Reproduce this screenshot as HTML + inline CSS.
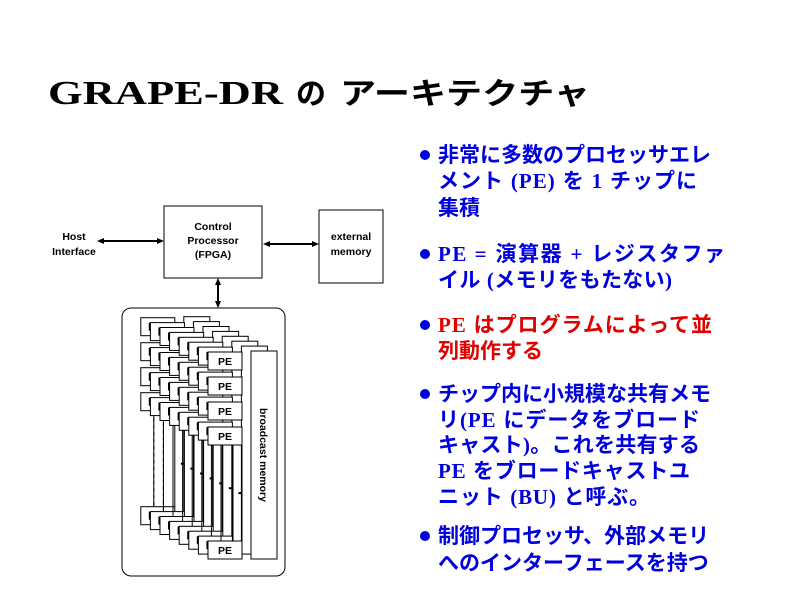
<!DOCTYPE html>
<html><head><meta charset="utf-8"><style>
html,body{margin:0;padding:0;background:#fff;}
svg{display:block;}
.j{font-family:"Liberation Sans","Noto Sans CJK JP",sans-serif;font-weight:bold;}
.s{font-family:"Liberation Serif","Noto Sans CJK JP",serif;font-weight:bold;}
.d{font-family:"Liberation Sans",sans-serif;font-weight:bold;font-size:10.5px;}
</style></head><body>
<svg width="800" height="600" viewBox="0 0 800 600" xmlns="http://www.w3.org/2000/svg">
<defs>
<g id="plane">
  <line x1="221" y1="445" x2="221" y2="541" stroke="#000" stroke-width="1"/>
  <line x1="242" y1="445" x2="242" y2="541" stroke="#000" stroke-width="1"/>
  <rect x="251" y="351" width="26" height="208" fill="#fff" stroke="#000"/>
  <rect x="208" y="352" width="34" height="18" fill="#fff" stroke="#000"/>
  <rect x="208" y="377" width="34" height="18" fill="#fff" stroke="#000"/>
  <rect x="208" y="402" width="34" height="18" fill="#fff" stroke="#000"/>
  <rect x="208" y="427" width="34" height="18" fill="#fff" stroke="#000"/>
  <rect x="208" y="541" width="34" height="18" fill="#fff" stroke="#000"/>
  <rect x="216" y="357" width="2.5" height="8" fill="#000"/>
  <rect x="216" y="382" width="2.5" height="8" fill="#000"/>
  <rect x="216" y="407" width="2.5" height="8" fill="#000"/>
  <rect x="216" y="432" width="2.5" height="8" fill="#000"/>
  <rect x="216" y="546" width="2.5" height="8" fill="#000"/>
  <rect x="248" y="497" width="3" height="2" fill="#000"/>
</g>
<g id="planed">
  <line x1="221" y1="445" x2="221" y2="541" stroke="#000" stroke-width="1" stroke-dasharray="4,3"/>
  <use href="#plane"/>
</g>
</defs>

<text x="48" y="104" font-family="'Liberation Serif',serif" font-weight="bold" font-size="34" textLength="235" lengthAdjust="spacingAndGlyphs">GRAPE-DR</text>
<text x="296" y="104" font-family="'Noto Sans CJK JP',sans-serif" font-weight="bold" font-size="30">の</text>
<text x="340" y="104" font-family="'Noto Sans CJK JP',sans-serif" font-weight="bold" font-size="30" textLength="250" lengthAdjust="spacingAndGlyphs">アーキテクチャ</text>

<text x="74" y="240" class="d" text-anchor="middle">Host</text>
<text x="74" y="255" class="d" text-anchor="middle">Interface</text>
<line x1="100" y1="241" x2="160" y2="241" stroke="#000" stroke-width="2"/>
<polygon points="97,241 104,238 104,244" fill="#000"/>
<polygon points="164,241 157,238 157,244" fill="#000"/>
<rect x="164" y="206" width="98" height="72" fill="#fff" stroke="#000"/>
<text x="213" y="230" class="d" text-anchor="middle">Control</text>
<text x="213" y="244" class="d" text-anchor="middle">Processor</text>
<text x="213" y="258" class="d" text-anchor="middle">(FPGA)</text>
<line x1="266" y1="244" x2="315" y2="244" stroke="#000" stroke-width="2"/>
<polygon points="263,244 270,241 270,247" fill="#000"/>
<polygon points="319,244 312,241 312,247" fill="#000"/>
<rect x="319" y="210" width="64" height="73" fill="#fff" stroke="#000"/>
<text x="351" y="240" class="d" text-anchor="middle">external</text>
<text x="351" y="255" class="d" text-anchor="middle">memory</text>
<line x1="218" y1="282" x2="218" y2="304" stroke="#000" stroke-width="2"/>
<polygon points="218,278 215,285 221,285" fill="#000"/>
<polygon points="218,308 215,301 221,301" fill="#000"/>

<rect x="122" y="308" width="163" height="268" rx="9" fill="#fff" stroke="#000"/>

<use href="#planed" transform="translate(-67.2,-34.3)"/>
<use href="#planed" transform="translate(-57.6,-29.4)"/>
<use href="#planed" transform="translate(-48,-24.5)"/>
<use href="#plane" transform="translate(-38.4,-19.6)"/>
<use href="#plane" transform="translate(-28.8,-14.7)"/>
<use href="#plane" transform="translate(-19.2,-9.8)"/>
<use href="#plane" transform="translate(-9.6,-4.9)"/>
<g>
  <line x1="221" y1="445" x2="221" y2="541" stroke="#000"/>
  <line x1="233" y1="445" x2="233" y2="541" stroke="#000"/>
  <line x1="242" y1="445" x2="242" y2="541" stroke="#000"/>
  <rect x="251" y="351" width="26" height="208" fill="#fff" stroke="#000"/>
  <rect x="208" y="352" width="34" height="18" fill="#fff" stroke="#000"/>
  <rect x="208" y="377" width="34" height="18" fill="#fff" stroke="#000"/>
  <rect x="208" y="402" width="34" height="18" fill="#fff" stroke="#000"/>
  <rect x="208" y="427" width="34" height="18" fill="#fff" stroke="#000"/>
  <rect x="208" y="541" width="34" height="18" fill="#fff" stroke="#000"/>
  <text x="225" y="365" class="d" text-anchor="middle">PE</text>
  <text x="225" y="390" class="d" text-anchor="middle">PE</text>
  <text x="225" y="415" class="d" text-anchor="middle">PE</text>
  <text x="225" y="440" class="d" text-anchor="middle">PE</text>
  <text x="225" y="554" class="d" text-anchor="middle">PE</text>
  <text transform="translate(260,455) rotate(90)" class="d" text-anchor="middle">broadcast memory</text>
</g>

<g fill="#0000dd" font-size="21">
<circle cx="425" cy="155" r="5"/>
<text x="438" y="162" class="j">非常に多数のプロセッサエレ</text>
<text x="438" y="188" class="j" textLength="259" lengthAdjust="spacing">メント <tspan class="s">(PE)</tspan> を <tspan class="s">1</tspan> チップに</text>
<text x="438" y="215" class="j">集積</text>
<circle cx="425" cy="254" r="5"/>
<text x="438" y="261" class="j" textLength="287" lengthAdjust="spacing"><tspan class="s">PE =</tspan> 演算器 <tspan class="s">+</tspan> レジスタファ</text>
<text x="438" y="287" class="j" textLength="234" lengthAdjust="spacing">イル <tspan class="s">(</tspan>メモリをもたない<tspan class="s">)</tspan></text>
<circle cx="425" cy="325" r="5"/>
<text x="438" y="332" class="j" fill="#e00000" textLength="274" lengthAdjust="spacing"><tspan class="s">PE</tspan> はプログラムによって並</text>
<text x="438" y="358" class="j" fill="#e00000">列動作する</text>
<circle cx="425" cy="394" r="5"/>
<text x="438" y="401" class="j">チップ内に小規模な共有メモ</text>
<text x="438" y="427" class="j" textLength="262" lengthAdjust="spacing">リ<tspan class="s">(PE</tspan> にデータをブロード</text>
<text x="438" y="452" class="j" textLength="262" lengthAdjust="spacing">キャスト<tspan class="s">)</tspan>。これを共有する</text>
<text x="438" y="478" class="j" textLength="252" lengthAdjust="spacing"><tspan class="s">PE</tspan> をブロードキャストユ</text>
<text x="438" y="504" class="j" textLength="212" lengthAdjust="spacing">ニット <tspan class="s">(BU)</tspan> と呼ぶ。</text>
<circle cx="425" cy="536" r="5"/>
<text x="438" y="543" class="j">制御プロセッサ、外部メモリ</text>
<text x="438" y="570" class="j">へのインターフェースを持つ</text>
</g>
</svg>
</body></html>
